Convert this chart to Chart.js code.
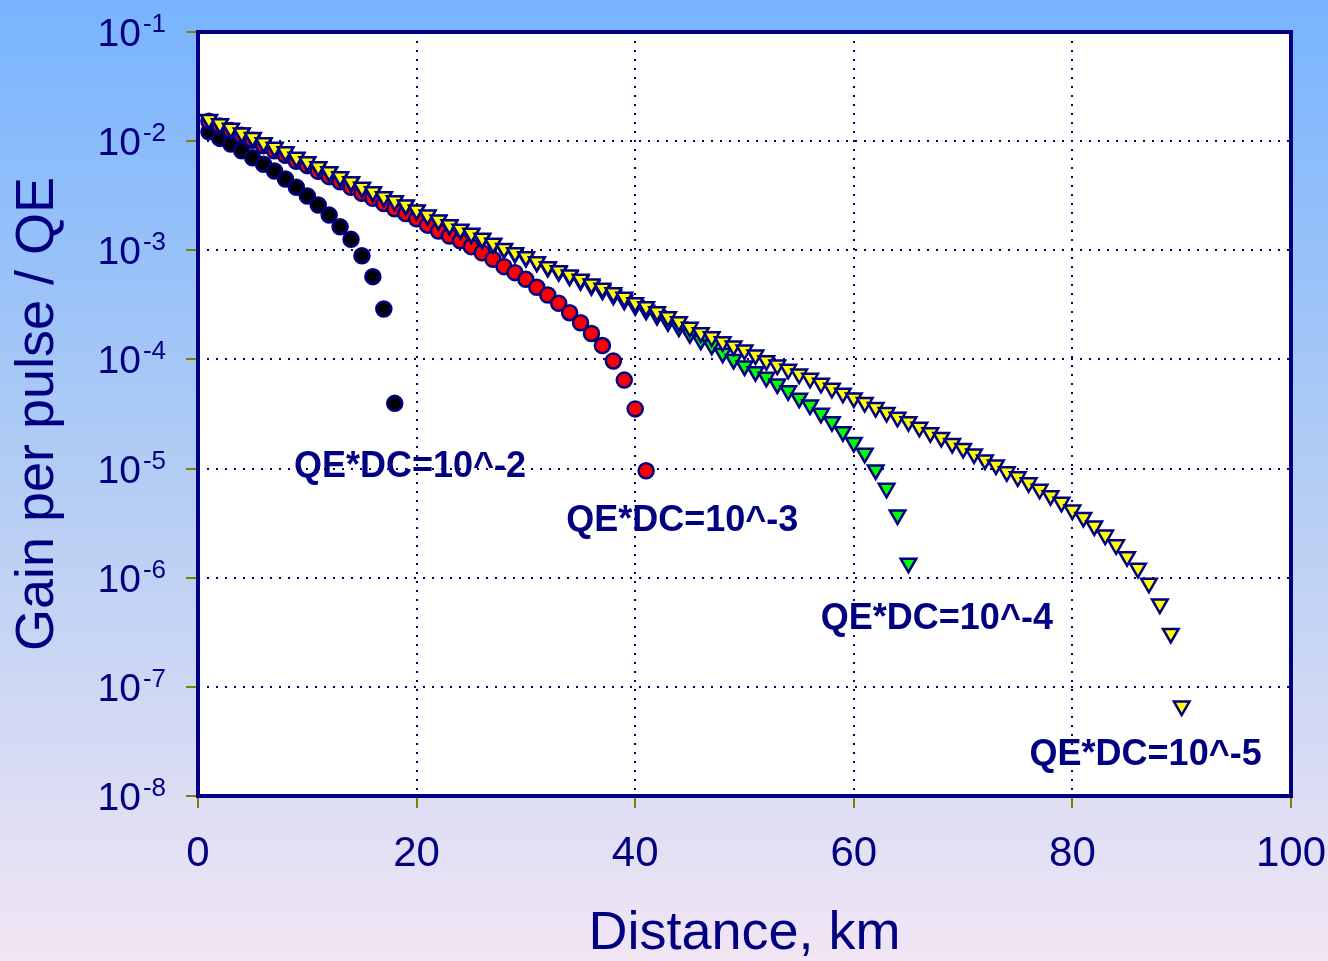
<!DOCTYPE html>
<html>
<head>
<meta charset="utf-8">
<title>Gain per pulse vs distance</title>
<script src="https://cdn.jsdelivr.net/npm/chart.js@4.4.1/dist/chart.umd.min.js"></script>
<style>
  html, body { margin: 0; padding: 0; }
  body { width: 1328px; height: 961px; overflow: hidden; }
  #wrap { position: relative; width: 1328px; height: 961px; }
</style>
</head>
<body>
<div id="wrap"><canvas id="gain-chart"></canvas></div>
<script>
const distanceKm = [
  1, 2, 3, 4, 5, 6, 7, 8, 9, 10, 11, 12, 13, 14, 15, 16, 17, 18, 19, 20,
  21, 22, 23, 24, 25, 26, 27, 28, 29, 30, 31, 32, 33, 34, 35, 36, 37, 38, 39, 40,
  41, 42, 43, 44, 45, 46, 47, 48, 49, 50, 51, 52, 53, 54, 55, 56, 57, 58, 59, 60,
  61, 62, 63, 64, 65, 66, 67, 68, 69, 70, 71, 72, 73, 74, 75, 76, 77, 78, 79, 80,
  81, 82, 83, 84, 85, 86, 87, 88, 89, 90
];

// QE*DC = 10^-2 (black circles)
const gainDc1e2 = [
  1.22e-2, 1.06e-2, 9.42e-3, 8.17e-3, 7.05e-3, 6.14e-3, 5.32e-3, 4.50e-3, 3.78e-3, 3.14e-3,
  2.60e-3, 2.10e-3, 1.64e-3, 1.26e-3, 8.91e-4, 5.73e-4, 2.90e-4, 3.96e-5
];

// QE*DC = 10^-3 (red circles)
const gainDc1e3 = [
  1.52e-2, 1.38e-2, 1.25e-2, 1.13e-2, 1.02e-2, 9.09e-3, 8.17e-3, 7.43e-3, 6.53e-3, 5.96e-3,
  5.30e-3, 4.73e-3, 4.25e-3, 3.78e-3, 3.33e-3, 3.00e-3, 2.68e-3, 2.40e-3, 2.17e-3, 1.94e-3,
  1.70e-3, 1.50e-3, 1.35e-3, 1.22e-3, 1.08e-3, 9.50e-4, 8.26e-4, 7.08e-4, 6.24e-4, 5.42e-4,
  4.58e-4, 3.89e-4, 3.27e-4, 2.68e-4, 2.17e-4, 1.73e-4, 1.34e-4, 9.68e-5, 6.47e-5, 3.52e-5,
  9.55e-6
];

// QE*DC = 10^-4 (green triangles)
const gainDc1e4 = [
  1.57e-2, 1.43e-2, 1.30e-2, 1.18e-2, 1.07e-2, 9.60e-3, 8.71e-3, 7.93e-3, 7.05e-3, 6.43e-3,
  5.77e-3, 5.20e-3, 4.67e-3, 4.21e-3, 3.74e-3, 3.40e-3, 3.07e-3, 2.81e-3, 2.57e-3, 2.31e-3,
  2.08e-3, 1.87e-3, 1.69e-3, 1.54e-3, 1.41e-3, 1.27e-3, 1.15e-3, 1.03e-3, 9.38e-4, 8.60e-4,
  7.77e-4, 6.97e-4, 6.36e-4, 5.78e-4, 5.25e-4, 4.73e-4, 4.31e-4, 3.87e-4, 3.48e-4, 3.11e-4,
  2.82e-4, 2.52e-4, 2.21e-4, 1.98e-4, 1.72e-4, 1.50e-4, 1.35e-4, 1.14e-4, 1.00e-4, 8.71e-5,
  7.73e-5, 6.85e-5, 5.96e-5, 5.16e-5, 4.41e-5, 3.82e-5, 3.21e-5, 2.69e-5, 2.18e-5, 1.73e-5,
  1.38e-5, 9.71e-6, 6.59e-6, 3.76e-6, 1.36e-6
];

// QE*DC = 10^-5 (yellow triangles)
const gainDc1e5 = [
  1.58e-2, 1.44e-2, 1.31e-2, 1.19e-2, 1.08e-2, 9.68e-3, 8.79e-3, 8.00e-3, 7.11e-3, 6.49e-3,
  5.83e-3, 5.25e-3, 4.72e-3, 4.25e-3, 3.78e-3, 3.44e-3, 3.10e-3, 2.84e-3, 2.60e-3, 2.34e-3,
  2.10e-3, 1.89e-3, 1.71e-3, 1.56e-3, 1.43e-3, 1.29e-3, 1.16e-3, 1.04e-3, 9.50e-4, 8.73e-4,
  7.85e-4, 7.08e-4, 6.50e-4, 5.93e-4, 5.42e-4, 4.91e-4, 4.49e-4, 4.08e-4, 3.71e-4, 3.31e-4,
  3.04e-4, 2.74e-4, 2.46e-4, 2.22e-4, 1.97e-4, 1.76e-4, 1.61e-4, 1.45e-4, 1.33e-4, 1.22e-4,
  1.10e-4, 9.73e-5, 8.89e-5, 8.11e-5, 7.35e-5, 6.71e-5, 6.04e-5, 5.43e-5, 4.90e-5, 4.44e-5,
  4.03e-5, 3.62e-5, 3.27e-5, 2.95e-5, 2.69e-5, 2.39e-5, 2.13e-5, 1.93e-5, 1.70e-5, 1.53e-5,
  1.36e-5, 1.20e-5, 1.08e-5, 9.35e-6, 8.41e-6, 7.41e-6, 6.46e-6, 5.64e-6, 4.91e-6, 4.17e-6,
  3.57e-6, 2.98e-6, 2.46e-6, 2.00e-6, 1.56e-6, 1.22e-6, 8.89e-7, 5.74e-7, 3.09e-7, 6.67e-8
];

const yTickValues = [1e-1, 1e-2, 1e-3, 1e-4, 1e-5, 1e-6, 1e-7, 1e-8];
const yTickExponents = ['-1', '-2', '-3', '-4', '-5', '-6', '-7', '-8'];

const curveLabels = ['QE*DC=10^-2', 'QE*DC=10^-3', 'QE*DC=10^-4', 'QE*DC=10^-5'];
const curveLabelKm = [19.4, 44.3, 67.6, 86.7];
const curveLabelGain = [1.04e-5, 3.31e-6, 4.19e-7, 2.37e-8];

const navy = '#000080';
const olive = '#808000';
const sans = '"Liberation Sans", Arial, sans-serif';

const toPoints = (gains) => gains.map((g, i) => ({ x: distanceKm[i], y: g }));

const backdrop = {
  id: 'backdrop',
  beforeDraw(chart) {
    const { ctx, width, height, chartArea: a } = chart;
    const grad = ctx.createLinearGradient(0, 0, 0, height);
    grad.addColorStop(0, '#78b4ff');
    grad.addColorStop(0.5, '#b3cdf4');
    grad.addColorStop(1, '#f2e5f4');
    ctx.save();
    ctx.fillStyle = grad;
    ctx.fillRect(0, 0, width, height);
    ctx.fillStyle = '#ffffff';
    ctx.fillRect(a.left, a.top, a.right - a.left, a.bottom - a.top);
    ctx.restore();
  },
  beforeDatasetsDraw(chart) {
    const { ctx, chartArea: a } = chart;
    ctx.save();
    ctx.strokeStyle = navy;
    ctx.lineWidth = 4;
    ctx.strokeRect(a.left, a.top, a.right - a.left, a.bottom - a.top);
    ctx.restore();
  },
  afterDraw(chart) {
    const { ctx } = chart;
    const xs = chart.scales.x;
    const ys = chart.scales.y;
    ctx.save();
    ctx.fillStyle = navy;
    ctx.textAlign = 'right';
    ctx.textBaseline = 'alphabetic';
    yTickValues.forEach((v, i) => {
      const py = ys.getPixelForValue(v);
      ctx.font = '26px ' + sans;
      ctx.fillText(yTickExponents[i], 166, py);
      ctx.font = '39px ' + sans;
      ctx.fillText('10', 141, py + 14);
    });
    ctx.font = 'bold 36px ' + sans;
    ctx.textAlign = 'center';
    ctx.textBaseline = 'middle';
    curveLabels.forEach((t, i) => {
      ctx.fillText(t, xs.getPixelForValue(curveLabelKm[i]), ys.getPixelForValue(curveLabelGain[i]));
    });
    ctx.restore();
  }
};

const pointSet = (label, gains, style, fill, radius) => ({
  label,
  data: toPoints(gains),
  pointStyle: style,
  rotation: style === 'triangle' ? 180 : 0,
  pointRadius: radius,
  pointHoverRadius: radius,
  backgroundColor: fill,
  borderColor: navy,
  borderWidth: 2.5,
  showLine: false
});

new Chart(document.getElementById('gain-chart'), {
  type: 'scatter',
  data: {
    datasets: [
      pointSet('QE*DC=10^-5', gainDc1e5, 'triangle', '#ffff00', 9),
      pointSet('QE*DC=10^-4', gainDc1e4, 'triangle', '#00ff00', 9),
      pointSet('QE*DC=10^-3', gainDc1e3, 'circle', '#ff0000', 7.5),
      pointSet('QE*DC=10^-2', gainDc1e2, 'circle', '#000000', 7.5)
    ]
  },
  options: {
    responsive: true,
    maintainAspectRatio: false,
    animation: false,
    layout: { padding: { left: 0, right: 37, top: 32, bottom: 0 } },
    plugins: { legend: { display: false }, tooltip: { enabled: false } },
    scales: {
      x: {
        type: 'linear',
        min: 0,
        max: 100,
        ticks: {
          stepSize: 20,
          color: navy,
          padding: 21,
          font: { family: '"Liberation Sans Narrow", "Liberation Sans", Arial, sans-serif', size: 42 }
        },
        grid: { color: navy, lineWidth: 2, tickColor: olive, tickWidth: 2, tickLength: 12 },
        border: { display: false, dash: [2, 7] },
        title: {
          display: true,
          text: 'Distance, km',
          color: navy,
          font: { family: sans, size: 54, lineHeight: 1 },
          padding: { top: 0, bottom: 0 }
        },
        afterFit(scale) {
          scale.height = 165;
          scale.paddingLeft = 0;
          scale.paddingRight = 0;
        }
      },
      y: {
        type: 'logarithmic',
        min: 1e-8,
        max: 1e-1,
        afterBuildTicks(scale) {
          scale.ticks = yTickValues.map(v => ({ value: v, major: true }));
        },
        ticks: { callback: () => '', autoSkip: false },
        grid: { color: navy, lineWidth: 2, tickColor: olive, tickWidth: 2, tickLength: 12 },
        border: { display: false, dash: [2, 7] },
        title: {
          display: true,
          text: 'Gain per pulse / QE',
          color: navy,
          font: { family: sans, size: 54, lineHeight: 1 },
          padding: { top: 11, bottom: 0 }
        },
        afterFit(scale) {
          scale.width = 198;
          scale.paddingTop = 0;
          scale.paddingBottom = 0;
        }
      }
    }
  },
  plugins: [backdrop]
});
</script>
</body>
</html>
